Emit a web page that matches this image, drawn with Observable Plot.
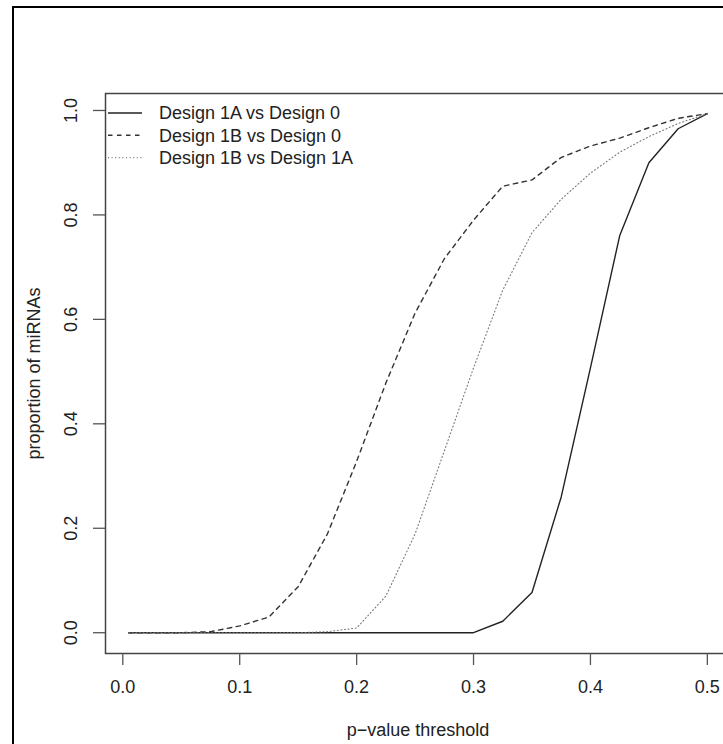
<!DOCTYPE html>
<html><head><meta charset="utf-8">
<script src="https://cdn.jsdelivr.net/npm/d3@7"></script>
<script src="https://cdn.jsdelivr.net/npm/@observablehq/plot@0.6"></script>
<style>
html,body{margin:0;padding:0;background:#fff;overflow:hidden;width:723px;height:744px;}
#wrap{position:relative;width:723px;height:744px;overflow:hidden;background:#fff;}
#border{position:absolute;left:12px;top:6px;width:900px;height:900px;border-left:2.5px solid #000;border-top:2.5px solid #000;}
#chart{position:absolute;left:0;top:0;width:740px;height:744px;}
#chart svg{max-width:none !important;}
</style></head><body>
<div id="wrap"><div id="border"></div><div id="chart"></div></div>
<script>
// p-value thresholds (x)
const thresholds = [0.005,0.025,0.05,0.075,0.1,0.125,0.15,0.175,0.2,0.225,0.25,0.275,0.3,0.325,0.35,0.375,0.4,0.425,0.45,0.475,0.5];
// proportion of miRNAs (y)
const design1AvsDesign0  = [0,0,0,0,0,0,0,0,0,0,0,0,0,0.022,0.077,0.26,0.507,0.76,0.9,0.965,0.994];
const design1BvsDesign0  = [0,0,0,0.002,0.013,0.03,0.088,0.189,0.328,0.478,0.612,0.716,0.79,0.855,0.867,0.91,0.932,0.947,0.967,0.985,0.994];
const design1BvsDesign1A = [0,0,0,0,0,0,0,0.002,0.009,0.07,0.189,0.348,0.507,0.656,0.766,0.83,0.88,0.92,0.95,0.975,0.994];
const seriesNames = ["Design 1A vs Design 0","Design 1B vs Design 0","Design 1B vs Design 1A"];
const xTicks = [0,0.1,0.2,0.3,0.4,0.5];
const yTicks = [0,0.2,0.4,0.6,0.8,1.0];
const xTitle = "p\u2212value threshold";
const yTitle = "proportion of miRNAs";

const styles = [
  {stroke:"#222", strokeWidth:1.4, dash:null},
  {stroke:"#333", strokeWidth:1.4, dash:"4.5,4.5"},
  {stroke:"#777", strokeWidth:1.1, dash:"1,2.6"}
];
const valuesList = [design1AvsDesign0, design1BvsDesign0, design1BvsDesign1A];
const tables = valuesList.map((vals, k) => thresholds.map((t, i) => ({series: seriesNames[k], t, p: vals[i]})));

const font = "'Liberation Sans', Arial, Helvetica, sans-serif";

function legendMark(index, scales, values, dims) {
  const g = d3.create("svg:g").attr("font-family", font).attr("font-size", 18).attr("fill", "#222").attr("text-anchor", "start");
  seriesNames.forEach((lab, i) => {
    const y = dims.marginTop + 20 + i * 22.3;
    const s = styles[i];
    g.append("line")
      .attr("x1", dims.marginLeft + 3).attr("x2", dims.marginLeft + 37)
      .attr("y1", y).attr("y2", y)
      .attr("stroke", s.stroke).attr("stroke-width", s.strokeWidth)
      .attr("stroke-dasharray", s.dash);
    g.append("text").attr("x", dims.marginLeft + 54).attr("y", y).attr("dy", "0.35em").attr("text-anchor", "start").text(lab);
  });
  return g.node();
}

const chart = Plot.plot({
  width: 740, height: 744,
  marginLeft: 105, marginRight: 10, marginTop: 93, marginBottom: 91,
  style: {fontFamily: font, fontSize: "18px", color: "#222", background: "transparent", overflow: "visible", maxWidth: "none"},
  x: {domain: [-0.0148, 0.5198]},
  y: {domain: [-0.0398, 1.0325]},
  marks: [
    Plot.frame({stroke: "#444", strokeWidth: 1.5}),
    Plot.axisX({ticks: xTicks, tickSize: 12, tickFormat: () => "", label: null, stroke: "#555", strokeWidth: 1.3}),
    Plot.axisY({ticks: yTicks, tickSize: 12, tickFormat: () => "", label: null, stroke: "#555", strokeWidth: 1.3}),
    Plot.text(xTicks, {x: d => d, frameAnchor: "bottom", dy: 34, text: d => d.toFixed(1), lineAnchor: "middle", fontSize: 18, fill: "#222"}),
    Plot.text(yTicks, {y: d => d, frameAnchor: "left", dx: -34, rotate: -90, text: d => d.toFixed(1), textAnchor: "middle", lineAnchor: "middle", fontSize: 18, fill: "#222"}),
    Plot.text([xTitle], {frameAnchor: "bottom", dy: 77, text: d => d, lineAnchor: "middle", fontSize: 18, fill: "#222"}),
    Plot.text([yTitle], {frameAnchor: "left", dx: -71, rotate: -90, text: d => d, textAnchor: "middle", lineAnchor: "middle", fontSize: 18, fill: "#222"}),
    ...tables.map((tab, k) => Plot.line(tab, {x: "t", y: "p", stroke: styles[k].stroke, strokeWidth: styles[k].strokeWidth, strokeDasharray: styles[k].dash, strokeLinejoin: "round"})),
    legendMark
  ]
});
document.getElementById("chart").appendChild(chart);
</script>
</body></html>
